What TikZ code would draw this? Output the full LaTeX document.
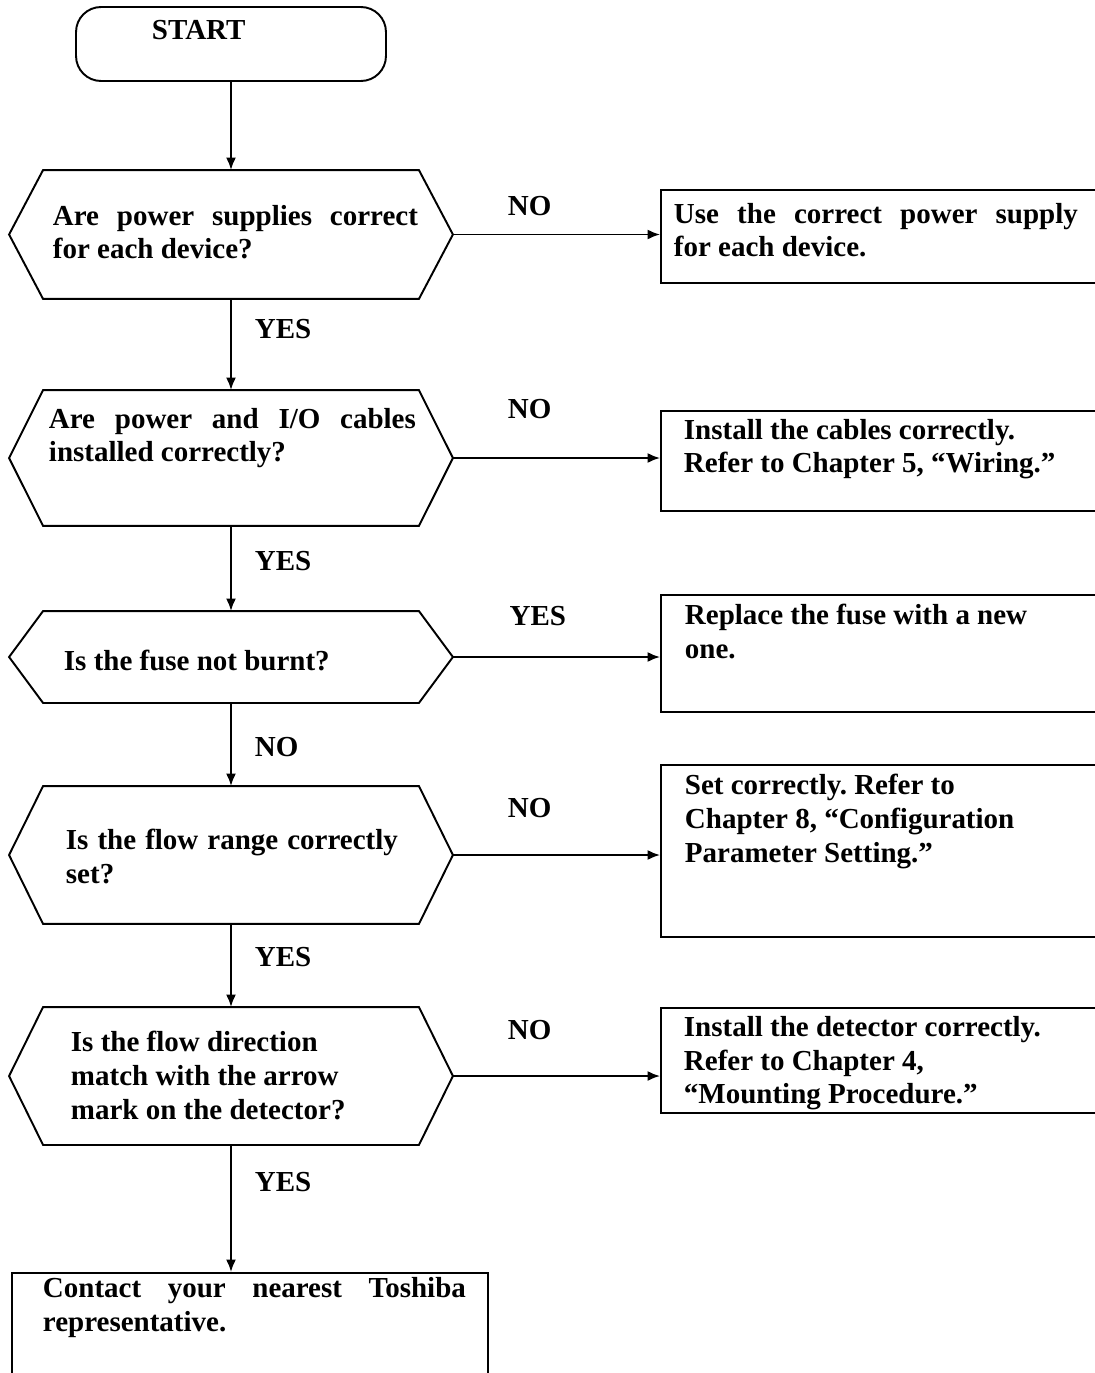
\documentclass[tikz,border=0pt]{standalone}
\usepackage{fontspec}
\setmainfont{Liberation Serif}
\usetikzlibrary{positioning, arrows.meta}
\frenchspacing
% justified line of a given width
\newcommand{\jline}[2]{\makebox[#1][s]{#2}}

\begin{document}
\begin{tikzpicture}[
        x=0.02cm, y=-0.02cm, % 1 unit = 1 px
        >={Latex[length=2.5mm, width=2mm]},
        line width=1.1pt,
        font=\fontsize{16.5}{19.3}\selectfont\bfseries,
        question/.style={minimum width=8.84cm, inner sep=0pt},
        action/.style={draw, minimum width=9.18cm, inner sep=0pt},
        txt/.style={inner sep=0pt, align=left, anchor=north west},
        answer/.style={inner sep=0pt}
    ]
    % --- parameters ---
    \def\Cut{0.68cm} % slant of the hexagons

    \useasboundingbox (0,0) rectangle (1095,1373);
    \clip (0,0) rectangle (1095,1373);

    % --- start ---
    \node[draw, rounded corners=0.5cm, minimum width=6.2cm, minimum height=1.48cm] (start) at (231,44) {};
    \node[txt] (starttxt) at (151,19) {START};

    % --- questions ---
    \node[question, minimum height=2.54cm] (q1) at (231,234.5) {};
    \node[question, minimum height=2.68cm] (q2) at (231,458) {};
    \node[question, minimum height=1.80cm] (q3) at (231,657) {};
    \node[question, minimum height=2.72cm] (q4) at (231,855) {};
    \node[question, minimum height=2.72cm] (q5) at (231,1076) {};

    \foreach \i in {1,...,5} {
        \draw (q\i.west) -- ([xshift=\Cut]q\i.north west) -- ([xshift=-\Cut]q\i.north east)
            -- (q\i.east) -- ([xshift=-\Cut]q\i.south east) -- ([xshift=\Cut]q\i.south west) -- cycle;
    }

    \node[txt] (q1txt) at (52,204) {\jline{7.3cm}{Are power supplies correct}\\ for each device?};
    \node[txt] (q2txt) at (48,407) {\jline{7.34cm}{Are power and I/O cables}\\ installed correctly?};
    \node[txt] (q3txt) at (63,649) {Is the fuse not burnt?};
    \node[txt] (q4txt) at (65,828) {\jline{6.64cm}{Is the flow range correctly}\\ set?};
    \node[txt] (q5txt) at (70,1030) {Is the flow direction\\ match with the arrow\\ mark on the detector?};

    % --- actions ---
    \node[action, minimum height=1.86cm] (b1) at (890.5,236.5) {};
    \node[action, minimum height=2.00cm] (b2) at (890.5,461) {};
    \node[action, minimum height=2.34cm] (b3) at (890.5,653.5) {};
    \node[action, minimum height=3.44cm] (b4) at (890.5,851) {};
    \node[action, minimum height=2.10cm] (b5) at (890.5,1060.5) {};
    \node[action, minimum width=9.52cm, minimum height=2.94cm] (b6) at (250,1346.5) {};

    \node[txt] (b1txt) at (673,202) {\jline{8.08cm}{Use the correct power supply}\\ for each device.};
    \node[txt] (b2txt) at (683,418) {Install the cables correctly.\\ Refer to Chapter 5, “Wiring.”};
    \node[txt] (b3txt) at (684,603) {Replace the fuse with a new\\ one.};
    \node[txt] (b4txt) at (684,773) {Set correctly. Refer to\\ Chapter 8, “Configuration\\ Parameter Setting.”};
    \node[txt] (b5txt) at (683,1015) {Install the detector correctly.\\ Refer to Chapter 4,\\ “Mounting Procedure.”};
    \node[txt] (b6txt) at (42,1276) {\jline{8.46cm}{Contact your nearest Toshiba}\\ representative.};

    % --- main line ---
    \draw[->] (start.south) -- (q1.north);
    \draw[->] (q1.south) -- node[answer, pos=0.33, right=0.46cm] (yes1) {YES} (q2.north);
    \draw[->] (q2.south) -- node[answer, pos=0.41, right=0.46cm] (yes2) {YES} (q3.north);
    \draw[->] (q3.south) -- node[answer, pos=0.53, right=0.46cm] (no3) {NO} (q4.north);
    \draw[->] (q4.south) -- node[answer, pos=0.40, right=0.46cm] (yes4) {YES} (q5.north);
    \draw[->] (q5.south) -- node[answer, pos=0.29, right=0.46cm] (yes5) {YES} (q5.south |- b6.north);

    % --- side branches ---
    \draw[->] (q1.east) -- node[answer, pos=0.37, above=0.36cm] (no1) {NO} (q1.east -| b1.west);
    \draw[->] (q2.east) -- node[answer, pos=0.37, above=0.76cm] (no2) {NO} (q2.east -| b2.west);
    \draw[->] (q3.east) -- node[answer, pos=0.41, above=0.60cm] (yes3) {YES} (q3.east -| b3.west);
    \draw[->] (q4.east) -- node[answer, pos=0.37, above=0.72cm] (no4) {NO} (q4.east -| b4.west);
    \draw[->] (q5.east) -- node[answer, pos=0.37, above=0.70cm] (no5) {NO} (q5.east -| b5.west);
\end{tikzpicture}
\end{document}
